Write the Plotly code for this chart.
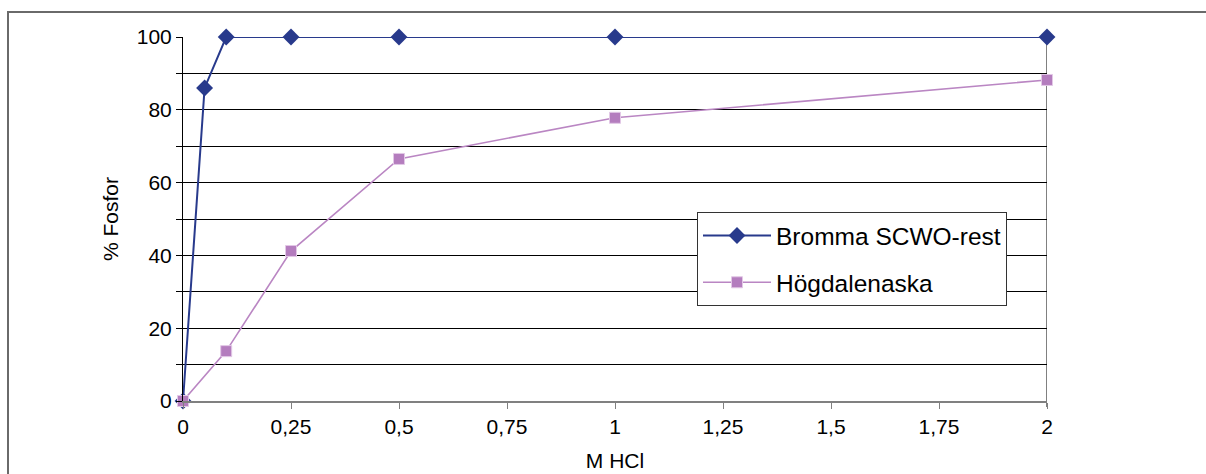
import plotly.graph_objects as go

# Phosphorus release (%) versus HCl concentration (M)
bromma_x = [0, 0.05, 0.1, 0.25, 0.5, 1, 2]
bromma_y = [0, 86, 100, 100, 100, 100, 100]

hogdalen_x = [0, 0.1, 0.25, 0.5, 1, 2]
hogdalen_y = [0, 13.7, 41.2, 66.5, 77.8, 88.2]

x_tickvals = [0, 0.25, 0.5, 0.75, 1, 1.25, 1.5, 1.75, 2]
x_ticktext = ["0", "0,25", "0,5", "0,75", "1", "1,25", "1,5", "1,75", "2"]
y_tickvals = [0, 10, 20, 30, 40, 50, 60, 70, 80, 90, 100]
y_ticktext = ["0", "", "20", "", "40", "", "60", "", "80", "", "100"]

NAVY = "#283A8C"
LILAC = "#B47DBE"
FONT = "Liberation Sans, Arial, sans-serif"

fig = go.Figure()
fig.add_trace(go.Scatter(
    x=bromma_x, y=bromma_y, mode="lines+markers", name="Bromma SCWO-rest",
    legendgroup="a",
    line=dict(color=NAVY, width=2),
    marker=dict(symbol="diamond", size=13, color=NAVY),
    cliponaxis=False,
))
fig.add_trace(go.Scatter(
    x=hogdalen_x, y=hogdalen_y, mode="lines+markers", name="Högdalenaska",
    legendgroup="b",
    line=dict(color="#BA86C3", width=1.6),
    marker=dict(symbol="square", size=11, color=LILAC,
                line=dict(color="#E2C8E6", width=1)),
    cliponaxis=False,
))

L, R, T, B = 183, 159, 37, 73
W, H = 1206, 474
pw, ph = W - L - R, H - T - B

fig.update_layout(
    width=W, height=H,
    margin=dict(l=L, r=R, t=T, b=B, pad=0),
    paper_bgcolor="white", plot_bgcolor="white",
    font=dict(family=FONT, size=21, color="black"),
    showlegend=True,
    legend=dict(
        x=(697 - L) / pw, y=(H - B - 212) / ph, xanchor="left", yanchor="top",
        bgcolor="white", bordercolor="#333333", borderwidth=1,
        font=dict(family=FONT, size=24.5, color="black"),
        tracegroupgap=12, traceorder="grouped",
        itemwidth=68,
    ),
    xaxis=dict(
        range=[0, 2], tickvals=x_tickvals, ticktext=x_ticktext,
        showgrid=False, zeroline=False, automargin=False,
        showline=True, linecolor="#808080", linewidth=2,
        ticks="outside", ticklen=6, tickcolor="#808080", tickwidth=1,
        title=dict(text="M HCl", font=dict(family=FONT, size=21), standoff=16),
    ),
    yaxis=dict(
        range=[0, 100], tickvals=y_tickvals, ticktext=y_ticktext,
        showgrid=True, gridcolor="black", gridwidth=1, zeroline=False,
        automargin=False,
        showline=True, linecolor="black", linewidth=1,
        ticks="outside", ticklen=6, tickcolor="black", tickwidth=1,
        title=dict(text="% Fosfor", font=dict(family=FONT, size=21), standoff=12),
    ),
    shapes=[
        # right edge of the plot area
        dict(type="line", xref="x", yref="paper", x0=2, x1=2, y0=-6 / ph, y1=1,
             line=dict(color="#808080", width=2), layer="between"),
        # outer chart frame
        dict(type="rect", xref="paper", yref="paper",
             x0=(8 - L) / pw, x1=1.3, y0=-0.4, y1=1 + (T - 12) / ph,
             line=dict(color="#6a6a6a", width=2), layer="above"),
    ],
)

fig.write_html("out.html")
